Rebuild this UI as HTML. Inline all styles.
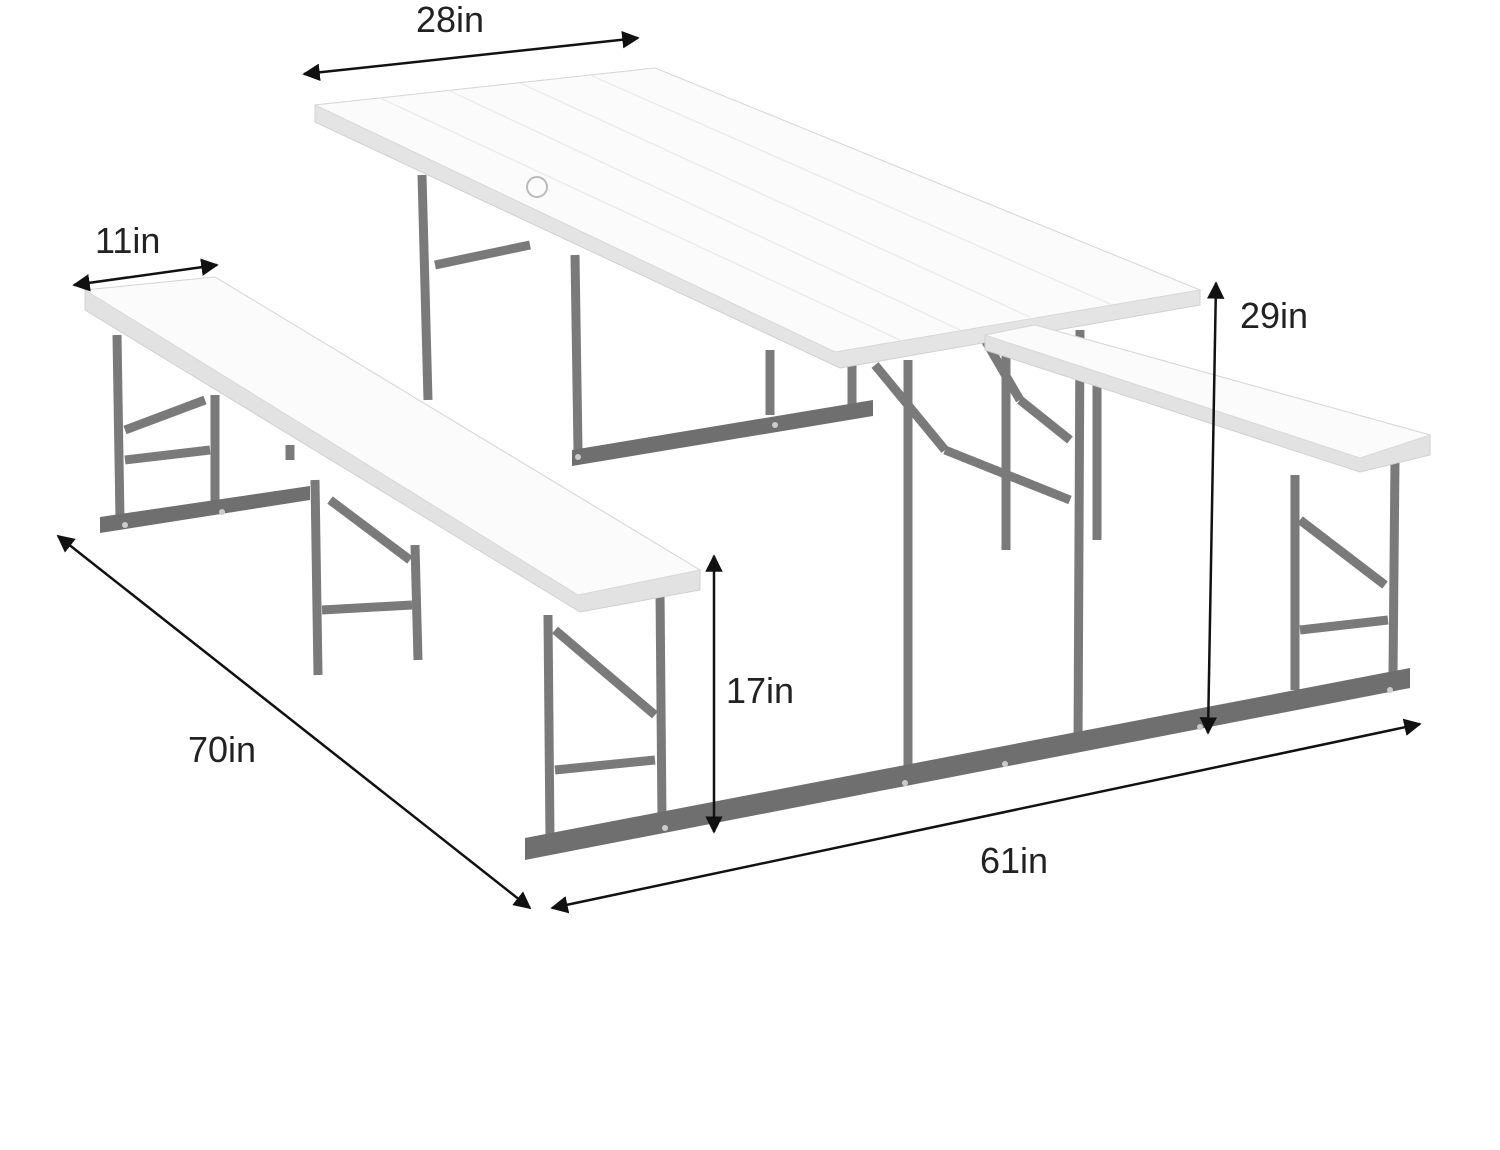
<!DOCTYPE html>
<html><head><meta charset="utf-8"><style>
html,body{margin:0;padding:0;background:#fff;width:1500px;height:1150px;overflow:hidden}
text{font-family:"Liberation Sans",sans-serif;font-size:36px;fill:#222}
</style></head><body>
<svg width="1500" height="1150" viewBox="0 0 1500 1150" xmlns="http://www.w3.org/2000/svg">
<defs>
<marker id="a" viewBox="0 0 10 10" refX="9" refY="5" markerWidth="7" markerHeight="7" orient="auto-start-reverse"><path d="M0,0L10,5L0,10z" fill="#111"/></marker>
</defs>
<g stroke="#7a7a7a" stroke-width="9" fill="none" stroke-linecap="butt">
<line x1="422" y1="175" x2="428" y2="400"/><line x1="575" y1="255" x2="578" y2="450"/>
<line x1="435" y1="265" x2="530" y2="245"/>
<line x1="770" y1="350" x2="770" y2="415"/><line x1="852" y1="365" x2="852" y2="410"/>
<line x1="908" y1="360" x2="908" y2="775"/><line x1="1080" y1="330" x2="1078" y2="745"/>
<line x1="875" y1="365" x2="945" y2="450"/><line x1="945" y1="450" x2="1070" y2="500"/>
<line x1="985" y1="340" x2="1020" y2="400"/><line x1="1020" y1="400" x2="1070" y2="440"/>
<line x1="1006" y1="345" x2="1006" y2="550"/><line x1="1097" y1="380" x2="1097" y2="540"/>
<line x1="117" y1="335" x2="120" y2="520"/><line x1="215" y1="395" x2="215" y2="505"/>
<line x1="125" y1="430" x2="205" y2="400"/><line x1="125" y1="460" x2="210" y2="450"/>
<line x1="315" y1="480" x2="318" y2="675"/><line x1="415" y1="545" x2="418" y2="660"/>
<line x1="322" y1="610" x2="412" y2="605"/><line x1="330" y1="500" x2="410" y2="560"/>
<line x1="548" y1="615" x2="550" y2="840"/><line x1="660" y1="590" x2="662" y2="820"/>
<line x1="555" y1="630" x2="655" y2="715"/><line x1="555" y1="770" x2="655" y2="760"/>
<line x1="1295" y1="475" x2="1295" y2="690"/><line x1="1395" y1="460" x2="1393" y2="675"/>
<line x1="1300" y1="520" x2="1385" y2="585"/><line x1="1300" y1="630" x2="1388" y2="620"/>
<line x1="290" y1="445" x2="290" y2="460"/>
</g>
<g fill="#6f6f6f">
<polygon points="525,838 1410,668 1410,688 525,860"/>
<polygon points="100,517 310,486 310,500 100,533"/>
<polygon points="572,450 873,400 873,416 572,466"/>
</g>
<g fill="#ccc">
<circle cx="665" cy="828" r="3"/><circle cx="905" cy="783" r="3"/><circle cx="1005" cy="764" r="3"/><circle cx="1200" cy="727" r="3"/><circle cx="1390" cy="690" r="3"/>
<circle cx="125" cy="525" r="3"/><circle cx="222" cy="512" r="3"/><circle cx="578" cy="457" r="3"/><circle cx="775" cy="425" r="3"/>
</g>
<polygon points="315,105 655,68 1200,290 1200,305 840,368 315,122" fill="#e4e4e4" stroke="#d0d0d0"/>
<polygon points="315,105 655,68 1200,290 835,352" fill="#fbfbfb" stroke="#d8d8d8"/>
<g stroke="#ececec" stroke-width="1.5">
<line x1="380" y1="98" x2="900" y2="340"/><line x1="450" y1="91" x2="960" y2="330"/><line x1="520" y1="83" x2="1030" y2="317"/><line x1="590" y1="75" x2="1110" y2="304"/>
<line x1="120" y1="287" x2="615" y2="587"/><line x1="160" y1="283" x2="650" y2="580"/>
</g>
<circle cx="537" cy="187" r="10" fill="none" stroke="#bbb" stroke-width="2"/>
<polygon points="85,290 215,277 700,570 700,590 580,612 85,310" fill="#e2e2e2" stroke="#d0d0d0"/>
<polygon points="85,290 215,277 700,570 578,595" fill="#fbfbfb" stroke="#d8d8d8"/>
<polygon points="985,335 1035,325 1430,435 1430,455 1360,472 985,350" fill="#e2e2e2" stroke="#d0d0d0"/>
<polygon points="985,335 1035,325 1430,435 1360,458" fill="#fbfbfb" stroke="#d8d8d8"/>
<g stroke="#111" stroke-width="2.5" marker-start="url(#a)" marker-end="url(#a)">
<line x1="304" y1="74" x2="638" y2="38"/>
<line x1="74" y1="285" x2="217" y2="265"/>
<line x1="1216" y1="283" x2="1208" y2="733"/>
<line x1="714" y1="556" x2="714" y2="832"/>
<line x1="58" y1="536" x2="530" y2="908"/>
<line x1="552" y1="908" x2="1420" y2="724"/>
</g>
<text x="416" y="32">28in</text>
<text x="95" y="253">11in</text>
<text x="1240" y="328">29in</text>
<text x="726" y="703">17in</text>
<text x="188" y="762">70in</text>
<text x="980" y="873">61in</text>
</svg>
</body></html>
